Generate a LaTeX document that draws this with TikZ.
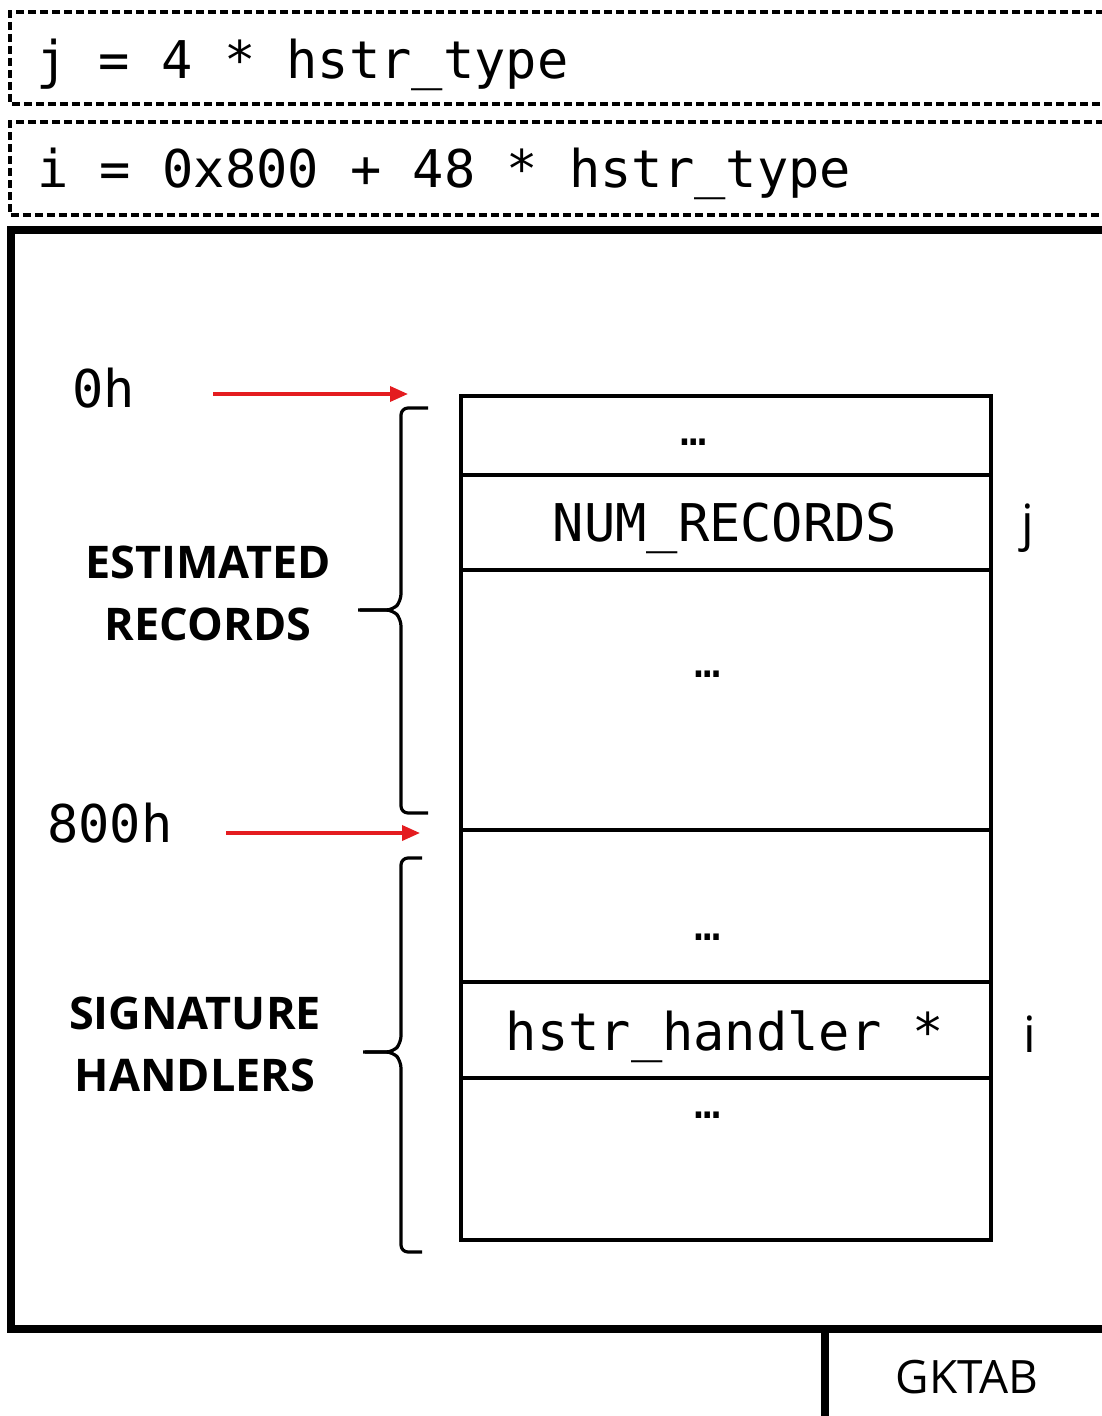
\documentclass[tikz,border=0pt]{standalone}
\usepackage{fontspec}
\newfontfamily\monof{DejaVu Sans Mono}
\newfontfamily\labelf{Open Sans}
\usetikzlibrary{arrows.meta}
\definecolor{ptrred}{RGB}{228,28,32}
\begin{document}
\begin{tikzpicture}[x=1pt,y=-1pt,
  dashbox/.style={line width=3.5pt, dash pattern=on 8pt off 4pt},
  frameline/.style={line width=8pt},
  cellline/.style={line width=3.5pt},
  braceline/.style={line width=3.2pt, rounded corners=7pt},
  ptrarrow/.style={ptrred, line width=3.5pt, -{Triangle[length=18pt,width=15pt]}},
  code/.style={font=\monof\fontsize{52}{60}\selectfont, inner sep=0pt},
  dots/.style={font=\monof\fontsize{44}{60}\selectfont, inner sep=0pt},
  idx/.style={font=\labelf\fontsize{50}{60}\selectfont, inner sep=0pt},
  region/.style={font=\labelf\bfseries\fontsize{45}{62}\selectfont, inner sep=0pt, align=center},
  tag/.style={font=\labelf\fontsize{46}{56}\selectfont, inner sep=0pt}]
\useasboundingbox (0,0) rectangle (1102,1416);
\clip (0,0) rectangle (1102,1416);
\fill[white] (0,0) rectangle (1102,1416);

% index formulas
\draw[dashbox] (1140,12) -- (10,12) -- (10,104) -- (1140,104);
\draw[dashbox] (1140,122) -- (10,122) -- (10,215) -- (1140,215);
\node[code, anchor=base west] (jdef) at (36,78) {j = 4 * hstr\_type};
\node[code, anchor=base west] (idef) at (37,187) {i = 0x800 + 48 * hstr\_type};

% table frame and GKTAB tab
\draw[frameline] (1140,230) -- (11,230) -- (11,1329) -- (1140,1329);
\draw[frameline] (825,1329) -- (825,1440);
\node[tag, anchor=base] (gktab) at (967,1393) {GKTAB};

% table cells
\draw[cellline] (461,396) rectangle (991,1240);
\foreach \yy in {475,570,830,982,1078}
  \draw[cellline] (461,\yy) -- (991,\yy);

\node[dots, anchor=base] (d1) at (694,445) {…};
\node[code, anchor=base] (numrec) at (725,541) {NUM\_RECORDS};
\node[dots, anchor=base] (d2) at (708,677) {…};
\node[dots, anchor=base] (d3) at (708,940) {…};
\node[code, anchor=base] (handler) at (725,1050) {hstr\_handler *};
\node[dots, anchor=base] (d4) at (708,1118) {…};

\node[idx, anchor=base] (jidx) at (1028,540) {j};
\node[idx, anchor=base] (iidx) at (1030,1052) {i};

% offsets
\node[code, anchor=base west] (off0) at (72,407) {0h};
\node[code, anchor=base west] (off800) at (47,842) {800h};
\coordinate (p0s) at (213,394);
\coordinate (p0e) at (408,394);
\coordinate (p8s) at (226,833);
\coordinate (p8e) at (420,833);
\draw[ptrarrow] (p0s) -- (p0e);
\draw[ptrarrow] (p8s) -- (p8e);

% braces
\draw[braceline] (428,408) -- (401,408) -- (401,601) -- (393,610) -- (358,610);
\draw[braceline] (360,610) -- (393,610) -- (401,619) -- (401,813) -- (428,813);
\draw[braceline] (422,858) -- (401,858) -- (401,1043) -- (393,1052) -- (363,1052);
\draw[braceline] (365,1052) -- (393,1052) -- (401,1061) -- (401,1252) -- (422,1252);

\node[region, anchor=base] (est) at (208,640) {ESTIMATED\\RECORDS};
\node[region, anchor=base] (sig) at (195,1091) {SIGNATURE\\HANDLERS};
\end{tikzpicture}
\end{document}
